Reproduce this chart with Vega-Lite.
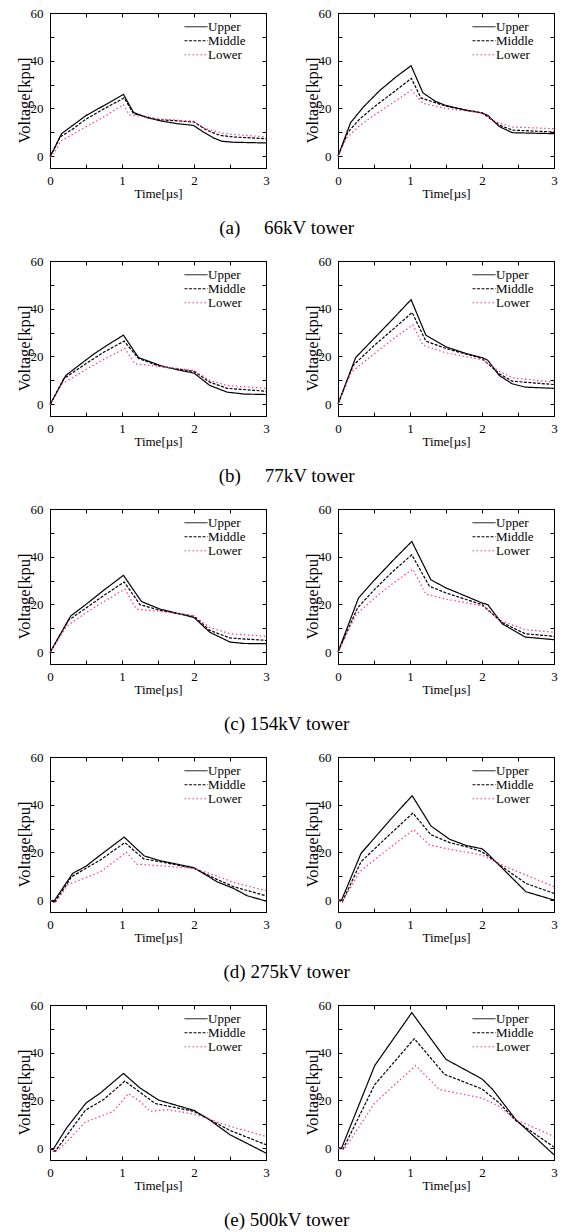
{
"$schema": "https://vega.github.io/schema/vega-lite/v6.json",
"padding": {"left": 15, "top": 6, "right": 0, "bottom": 0},
"config": {
  "view": {"stroke": "black", "strokeWidth": 1},
  "axis": {"grid": false, "tickSize": -4, "domainColor": "black", "tickColor": "black", "labelColor": "black", "titleColor": "black", "labelFont": "Liberation Serif", "labelFontSize": 13, "titleFont": "Liberation Serif", "titleFontWeight": "normal", "labelFlush": false, "labelOverlap": false},
  "axisBottom": {"labelPadding": 10, "titleFontSize": 13, "titlePadding": 0},
  "axisLeft": {"labelPadding": 11, "titleFontSize": 16.5, "titlePadding": -2},
  "legend": {"orient": "none", "legendX": 134, "legendY": 7, "symbolType": "stroke", "symbolSize": 529, "symbolStrokeWidth": 1, "labelFont": "Liberation Serif", "labelFontSize": 13, "labelColor": "black", "labelOffset": 0, "clipHeight": 13.5, "padding": 0, "rowPadding": 0},
  "title": {"font": "Liberation Serif", "fontSize": 19, "fontWeight": "normal", "color": "black", "orient": "bottom", "anchor": "middle", "offset": 18}
},
"datasets": {
"aL": [
{"t":0,"v":0,"s":"Upper"},{"t":0.05,"v":2.5,"s":"Upper"},{"t":0.16,"v":9.4,"s":"Upper"},{"t":0.3,"v":12.5,"s":"Upper"},{"t":0.5,"v":17.0,"s":"Upper"},{"t":0.75,"v":21.2,"s":"Upper"},{"t":1.02,"v":25.9,"s":"Upper"},{"t":1.16,"v":18.3,"s":"Upper"},{"t":1.34,"v":16.2,"s":"Upper"},{"t":1.53,"v":14.8,"s":"Upper"},{"t":1.76,"v":13.6,"s":"Upper"},{"t":1.99,"v":12.9,"s":"Upper"},{"t":2.13,"v":10.1,"s":"Upper"},{"t":2.27,"v":7.6,"s":"Upper"},{"t":2.39,"v":6.2,"s":"Upper"},{"t":2.55,"v":5.8,"s":"Upper"},{"t":3,"v":5.5,"s":"Upper"},
{"t":0,"v":-0.3,"s":"Middle"},{"t":0.14,"v":8.0,"s":"Middle"},{"t":0.3,"v":11.0,"s":"Middle"},{"t":0.5,"v":15.5,"s":"Middle"},{"t":0.75,"v":19.8,"s":"Middle"},{"t":1.03,"v":24.4,"s":"Middle"},{"t":1.16,"v":17.8,"s":"Middle"},{"t":1.5,"v":15.3,"s":"Middle"},{"t":2.0,"v":14.3,"s":"Middle"},{"t":2.18,"v":10.8,"s":"Middle"},{"t":2.36,"v":8.7,"s":"Middle"},{"t":2.55,"v":8.0,"s":"Middle"},{"t":3,"v":7.3,"s":"Middle"},
{"t":0,"v":-0.5,"s":"Lower"},{"t":0.08,"v":2.5,"s":"Lower"},{"t":0.15,"v":6.3,"s":"Lower"},{"t":0.5,"v":12.3,"s":"Lower"},{"t":0.75,"v":16.5,"s":"Lower"},{"t":1.02,"v":21.6,"s":"Lower"},{"t":1.1,"v":17.3,"s":"Lower"},{"t":1.5,"v":15.6,"s":"Lower"},{"t":2.0,"v":14.6,"s":"Lower"},{"t":2.15,"v":11.6,"s":"Lower"},{"t":2.4,"v":9.6,"s":"Lower"},{"t":2.6,"v":8.9,"s":"Lower"},{"t":3,"v":8.1,"s":"Lower"}
],
"aR": [
{"t":0,"v":0,"s":"Upper"},{"t":0.175,"v":14.0,"s":"Upper"},{"t":0.35,"v":20.5,"s":"Upper"},{"t":0.58,"v":27.5,"s":"Upper"},{"t":0.81,"v":33.3,"s":"Upper"},{"t":1.015,"v":37.9,"s":"Upper"},{"t":1.18,"v":26.5,"s":"Upper"},{"t":1.35,"v":23.0,"s":"Upper"},{"t":1.5,"v":21.2,"s":"Upper"},{"t":1.78,"v":19.2,"s":"Upper"},{"t":2.0,"v":18.1,"s":"Upper"},{"t":2.08,"v":17.1,"s":"Upper"},{"t":2.24,"v":12.4,"s":"Upper"},{"t":2.42,"v":9.8,"s":"Upper"},{"t":3,"v":9.4,"s":"Upper"},
{"t":0,"v":0,"s":"Middle"},{"t":0.14,"v":10.1,"s":"Middle"},{"t":0.3,"v":15.5,"s":"Middle"},{"t":0.5,"v":20.6,"s":"Middle"},{"t":0.75,"v":26.3,"s":"Middle"},{"t":1.02,"v":32.6,"s":"Middle"},{"t":1.15,"v":24.4,"s":"Middle"},{"t":1.5,"v":20.9,"s":"Middle"},{"t":2.0,"v":18.1,"s":"Middle"},{"t":2.24,"v":13.0,"s":"Middle"},{"t":2.42,"v":10.9,"s":"Middle"},{"t":3,"v":10.1,"s":"Middle"},
{"t":0,"v":0,"s":"Lower"},{"t":0.115,"v":7.5,"s":"Lower"},{"t":0.3,"v":12.8,"s":"Lower"},{"t":0.5,"v":17.1,"s":"Lower"},{"t":0.75,"v":22.1,"s":"Lower"},{"t":1.02,"v":27.7,"s":"Lower"},{"t":1.18,"v":22.1,"s":"Lower"},{"t":1.5,"v":20.0,"s":"Lower"},{"t":2.0,"v":18.1,"s":"Lower"},{"t":2.19,"v":14.4,"s":"Lower"},{"t":2.42,"v":12.2,"s":"Lower"},{"t":3,"v":11.5,"s":"Lower"}
],
"bL": [
{"t":0,"v":-0.3,"s":"Upper"},{"t":0.22,"v":12.0,"s":"Upper"},{"t":0.4,"v":16.2,"s":"Upper"},{"t":0.6,"v":20.8,"s":"Upper"},{"t":0.8,"v":24.8,"s":"Upper"},{"t":1.02,"v":28.9,"s":"Upper"},{"t":1.23,"v":19.5,"s":"Upper"},{"t":1.53,"v":16.2,"s":"Upper"},{"t":1.75,"v":14.5,"s":"Upper"},{"t":2.0,"v":13.0,"s":"Upper"},{"t":2.22,"v":7.8,"s":"Upper"},{"t":2.46,"v":5.0,"s":"Upper"},{"t":2.7,"v":4.2,"s":"Upper"},{"t":3,"v":4.0,"s":"Upper"},
{"t":0,"v":-0.3,"s":"Middle"},{"t":0.19,"v":10.6,"s":"Middle"},{"t":0.5,"v":17.0,"s":"Middle"},{"t":0.75,"v":21.8,"s":"Middle"},{"t":1.03,"v":26.4,"s":"Middle"},{"t":1.23,"v":19.1,"s":"Middle"},{"t":1.53,"v":15.8,"s":"Middle"},{"t":2.0,"v":13.7,"s":"Middle"},{"t":2.22,"v":9.2,"s":"Middle"},{"t":2.46,"v":6.6,"s":"Middle"},{"t":3,"v":5.4,"s":"Middle"},
{"t":0,"v":-0.5,"s":"Lower"},{"t":0.16,"v":8.3,"s":"Lower"},{"t":0.5,"v":14.5,"s":"Lower"},{"t":0.75,"v":18.8,"s":"Lower"},{"t":1.04,"v":23.3,"s":"Lower"},{"t":1.18,"v":16.9,"s":"Lower"},{"t":1.53,"v":15.8,"s":"Lower"},{"t":2.0,"v":14.1,"s":"Lower"},{"t":2.22,"v":9.9,"s":"Lower"},{"t":2.46,"v":7.8,"s":"Lower"},{"t":3,"v":6.6,"s":"Lower"}
],
"bR": [
{"t":0,"v":0,"s":"Upper"},{"t":0.245,"v":19.5,"s":"Upper"},{"t":0.5,"v":27.5,"s":"Upper"},{"t":0.75,"v":35.3,"s":"Upper"},{"t":1.015,"v":43.8,"s":"Upper"},{"t":1.22,"v":28.9,"s":"Upper"},{"t":1.5,"v":24.0,"s":"Upper"},{"t":1.78,"v":21.2,"s":"Upper"},{"t":2.0,"v":19.5,"s":"Upper"},{"t":2.08,"v":18.4,"s":"Upper"},{"t":2.24,"v":12.0,"s":"Upper"},{"t":2.42,"v":8.5,"s":"Upper"},{"t":2.6,"v":7.1,"s":"Upper"},{"t":3,"v":6.6,"s":"Upper"},
{"t":0,"v":0,"s":"Middle"},{"t":0.21,"v":16.2,"s":"Middle"},{"t":0.5,"v":24.5,"s":"Middle"},{"t":0.75,"v":31.0,"s":"Middle"},{"t":1.03,"v":38.4,"s":"Middle"},{"t":1.22,"v":26.4,"s":"Middle"},{"t":1.5,"v":23.3,"s":"Middle"},{"t":2.0,"v":19.1,"s":"Middle"},{"t":2.24,"v":12.7,"s":"Middle"},{"t":2.42,"v":9.6,"s":"Middle"},{"t":3,"v":8.2,"s":"Middle"},
{"t":0,"v":0,"s":"Lower"},{"t":0.185,"v":13.4,"s":"Lower"},{"t":0.5,"v":21.0,"s":"Lower"},{"t":0.75,"v":27.0,"s":"Lower"},{"t":1.04,"v":33.2,"s":"Lower"},{"t":1.18,"v":24.7,"s":"Lower"},{"t":1.5,"v":21.5,"s":"Lower"},{"t":2.0,"v":18.6,"s":"Lower"},{"t":2.24,"v":13.8,"s":"Lower"},{"t":2.42,"v":11.0,"s":"Lower"},{"t":3,"v":9.2,"s":"Lower"}
],
"cL": [
{"t":0,"v":-0.2,"s":"Upper"},{"t":0.29,"v":15.2,"s":"Upper"},{"t":0.5,"v":20.0,"s":"Upper"},{"t":0.75,"v":26.0,"s":"Upper"},{"t":1.02,"v":32.2,"s":"Upper"},{"t":1.27,"v":21.2,"s":"Upper"},{"t":1.53,"v":18.0,"s":"Upper"},{"t":2.0,"v":14.5,"s":"Upper"},{"t":2.22,"v":8.3,"s":"Upper"},{"t":2.5,"v":4.2,"s":"Upper"},{"t":2.7,"v":3.6,"s":"Upper"},{"t":3,"v":3.5,"s":"Upper"},
{"t":0,"v":-0.2,"s":"Middle"},{"t":0.255,"v":13.3,"s":"Middle"},{"t":0.5,"v":18.5,"s":"Middle"},{"t":0.75,"v":23.8,"s":"Middle"},{"t":1.03,"v":29.4,"s":"Middle"},{"t":1.25,"v":19.9,"s":"Middle"},{"t":1.53,"v":17.5,"s":"Middle"},{"t":2.0,"v":15.0,"s":"Middle"},{"t":2.22,"v":9.1,"s":"Middle"},{"t":2.5,"v":5.9,"s":"Middle"},{"t":3,"v":4.9,"s":"Middle"},
{"t":0,"v":-0.2,"s":"Lower"},{"t":0.23,"v":10.8,"s":"Lower"},{"t":0.5,"v":16.5,"s":"Lower"},{"t":0.75,"v":21.2,"s":"Lower"},{"t":1.04,"v":26.4,"s":"Lower"},{"t":1.2,"v":18.0,"s":"Lower"},{"t":1.53,"v":17.1,"s":"Lower"},{"t":2.0,"v":15.2,"s":"Lower"},{"t":2.22,"v":10.3,"s":"Lower"},{"t":2.5,"v":7.7,"s":"Lower"},{"t":3,"v":6.6,"s":"Lower"}
],
"cR": [
{"t":0,"v":0,"s":"Upper"},{"t":0.285,"v":22.7,"s":"Upper"},{"t":0.5,"v":30.0,"s":"Upper"},{"t":0.75,"v":38.0,"s":"Upper"},{"t":1.025,"v":46.4,"s":"Upper"},{"t":1.29,"v":30.3,"s":"Upper"},{"t":1.5,"v":26.9,"s":"Upper"},{"t":1.78,"v":23.4,"s":"Upper"},{"t":2.0,"v":20.6,"s":"Upper"},{"t":2.08,"v":19.9,"s":"Upper"},{"t":2.28,"v":11.9,"s":"Upper"},{"t":2.6,"v":6.3,"s":"Upper"},{"t":3,"v":5.2,"s":"Upper"},
{"t":0,"v":0,"s":"Middle"},{"t":0.27,"v":18.5,"s":"Middle"},{"t":0.5,"v":26.0,"s":"Middle"},{"t":0.75,"v":33.5,"s":"Middle"},{"t":1.025,"v":40.8,"s":"Middle"},{"t":1.27,"v":27.6,"s":"Middle"},{"t":1.5,"v":24.8,"s":"Middle"},{"t":2.0,"v":19.9,"s":"Middle"},{"t":2.28,"v":12.4,"s":"Middle"},{"t":2.6,"v":7.7,"s":"Middle"},{"t":3,"v":6.6,"s":"Middle"},
{"t":0,"v":0,"s":"Lower"},{"t":0.25,"v":15.7,"s":"Lower"},{"t":0.5,"v":22.5,"s":"Lower"},{"t":0.75,"v":28.5,"s":"Lower"},{"t":1.04,"v":34.8,"s":"Lower"},{"t":1.22,"v":24.3,"s":"Lower"},{"t":1.5,"v":22.2,"s":"Lower"},{"t":2.0,"v":19.4,"s":"Lower"},{"t":2.28,"v":12.9,"s":"Lower"},{"t":2.6,"v":9.4,"s":"Lower"},{"t":3,"v":8.3,"s":"Lower"}
],
"dL": [
{"t":0,"v":0,"s":"Upper"},{"t":0.05,"v":-0.7,"s":"Upper"},{"t":0.315,"v":11.2,"s":"Upper"},{"t":0.5,"v":14.2,"s":"Upper"},{"t":0.7,"v":18.9,"s":"Upper"},{"t":1.03,"v":26.4,"s":"Upper"},{"t":1.16,"v":22.7,"s":"Upper"},{"t":1.31,"v":18.5,"s":"Upper"},{"t":1.53,"v":16.5,"s":"Upper"},{"t":2.0,"v":13.6,"s":"Upper"},{"t":2.32,"v":7.7,"s":"Upper"},{"t":2.55,"v":4.9,"s":"Upper"},{"t":2.74,"v":1.8,"s":"Upper"},{"t":3,"v":-0.4,"s":"Upper"},
{"t":0,"v":0,"s":"Middle"},{"t":0.07,"v":-0.7,"s":"Middle"},{"t":0.3,"v":9.8,"s":"Middle"},{"t":0.7,"v":16.8,"s":"Middle"},{"t":1.04,"v":24.1,"s":"Middle"},{"t":1.3,"v":17.3,"s":"Middle"},{"t":1.53,"v":16.1,"s":"Middle"},{"t":2.0,"v":13.3,"s":"Middle"},{"t":2.32,"v":8.7,"s":"Middle"},{"t":2.55,"v":5.6,"s":"Middle"},{"t":3,"v":1.8,"s":"Middle"},
{"t":0,"v":0,"s":"Lower"},{"t":0.07,"v":-1.4,"s":"Lower"},{"t":0.25,"v":6.5,"s":"Lower"},{"t":0.7,"v":11.8,"s":"Lower"},{"t":1.06,"v":20.1,"s":"Lower"},{"t":1.2,"v":15.1,"s":"Lower"},{"t":1.53,"v":14.4,"s":"Lower"},{"t":2.0,"v":13.3,"s":"Lower"},{"t":2.32,"v":10.1,"s":"Lower"},{"t":2.55,"v":7.4,"s":"Lower"},{"t":3,"v":3.9,"s":"Lower"}
],
"dR": [
{"t":0,"v":0,"s":"Upper"},{"t":0.05,"v":0,"s":"Upper"},{"t":0.32,"v":19.6,"s":"Upper"},{"t":0.5,"v":25.8,"s":"Upper"},{"t":0.72,"v":33.5,"s":"Upper"},{"t":1.03,"v":43.8,"s":"Upper"},{"t":1.29,"v":31.1,"s":"Upper"},{"t":1.55,"v":25.5,"s":"Upper"},{"t":1.78,"v":22.9,"s":"Upper"},{"t":2.0,"v":21.5,"s":"Upper"},{"t":2.05,"v":20.3,"s":"Upper"},{"t":2.33,"v":11.9,"s":"Upper"},{"t":2.61,"v":3.5,"s":"Upper"},{"t":3,"v":0,"s":"Upper"},
{"t":0,"v":0,"s":"Middle"},{"t":0.06,"v":-0.7,"s":"Middle"},{"t":0.32,"v":16.1,"s":"Middle"},{"t":0.7,"v":27.0,"s":"Middle"},{"t":1.04,"v":36.5,"s":"Middle"},{"t":1.29,"v":27.4,"s":"Middle"},{"t":1.55,"v":24.1,"s":"Middle"},{"t":1.78,"v":22.4,"s":"Middle"},{"t":2.0,"v":20.3,"s":"Middle"},{"t":2.33,"v":12.9,"s":"Middle"},{"t":2.61,"v":7.0,"s":"Middle"},{"t":3,"v":2.8,"s":"Middle"},
{"t":0,"v":0,"s":"Lower"},{"t":0.07,"v":-0.4,"s":"Lower"},{"t":0.3,"v":11.9,"s":"Lower"},{"t":0.7,"v":21.5,"s":"Lower"},{"t":1.05,"v":29.5,"s":"Lower"},{"t":1.27,"v":23.1,"s":"Lower"},{"t":1.55,"v":21.3,"s":"Lower"},{"t":2.0,"v":18.9,"s":"Lower"},{"t":2.33,"v":14.0,"s":"Lower"},{"t":2.61,"v":10.5,"s":"Lower"},{"t":3,"v":5.6,"s":"Lower"}
],
"eL": [
{"t":0,"v":0,"s":"Upper"},{"t":0.04,"v":-0.7,"s":"Upper"},{"t":0.23,"v":8.4,"s":"Upper"},{"t":0.5,"v":18.9,"s":"Upper"},{"t":0.7,"v":23.1,"s":"Upper"},{"t":1.02,"v":31.3,"s":"Upper"},{"t":1.25,"v":25.2,"s":"Upper"},{"t":1.51,"v":20.1,"s":"Upper"},{"t":2.0,"v":15.8,"s":"Upper"},{"t":2.18,"v":12.6,"s":"Upper"},{"t":2.5,"v":5.6,"s":"Upper"},{"t":3,"v":-2.1,"s":"Upper"},
{"t":0,"v":0,"s":"Middle"},{"t":0.07,"v":-1.4,"s":"Middle"},{"t":0.49,"v":15.8,"s":"Middle"},{"t":0.75,"v":20.5,"s":"Middle"},{"t":1.04,"v":28.1,"s":"Middle"},{"t":1.46,"v":18.7,"s":"Middle"},{"t":2.0,"v":15.4,"s":"Middle"},{"t":2.5,"v":7.4,"s":"Middle"},{"t":3,"v":1.4,"s":"Middle"},
{"t":0,"v":0,"s":"Lower"},{"t":0.06,"v":-1.8,"s":"Lower"},{"t":0.2,"v":1.5,"s":"Lower"},{"t":0.49,"v":10.9,"s":"Lower"},{"t":0.88,"v":15.4,"s":"Lower"},{"t":1.09,"v":22.9,"s":"Lower"},{"t":1.25,"v":19.6,"s":"Lower"},{"t":1.39,"v":15.4,"s":"Lower"},{"t":1.62,"v":16.1,"s":"Lower"},{"t":2.0,"v":14.3,"s":"Lower"},{"t":2.5,"v":9.1,"s":"Lower"},{"t":3,"v":4.9,"s":"Lower"}
],
"eR": [
{"t":0,"v":0,"s":"Upper"},{"t":0.05,"v":0,"s":"Upper"},{"t":0.51,"v":34.6,"s":"Upper"},{"t":1.025,"v":56.8,"s":"Upper"},{"t":1.5,"v":37.2,"s":"Upper"},{"t":2.0,"v":29.0,"s":"Upper"},{"t":2.15,"v":24.5,"s":"Upper"},{"t":2.47,"v":11.9,"s":"Upper"},{"t":3,"v":-2.8,"s":"Upper"},
{"t":0,"v":0,"s":"Middle"},{"t":0.07,"v":-0.4,"s":"Middle"},{"t":0.51,"v":26.6,"s":"Middle"},{"t":1.06,"v":45.9,"s":"Middle"},{"t":1.48,"v":30.9,"s":"Middle"},{"t":2.0,"v":24.8,"s":"Middle"},{"t":2.24,"v":18.9,"s":"Middle"},{"t":2.47,"v":11.5,"s":"Middle"},{"t":3,"v":0.4,"s":"Middle"},
{"t":0,"v":0,"s":"Lower"},{"t":0.09,"v":-0.4,"s":"Lower"},{"t":0.51,"v":18.9,"s":"Lower"},{"t":1.08,"v":34.6,"s":"Lower"},{"t":1.41,"v":24.5,"s":"Lower"},{"t":2.0,"v":21.0,"s":"Lower"},{"t":2.24,"v":17.5,"s":"Lower"},{"t":2.47,"v":11.9,"s":"Lower"},{"t":3,"v":4.9,"s":"Lower"}
]
},
"spacing": 16,
"resolve": {"scale": {"color": "independent", "strokeDash": "independent"}},
"vconcat": [
{"title": {"text": "(a)\u00a0\u00a0\u00a0\u00a0\u00a066kV tower"}, "spacing": 33, "resolve": {"scale": {"color": "independent", "strokeDash": "independent"}},
 "hconcat": [
  {"width": 216, "height": 155, "data": {"name": "aL"}, "resolve": {"axis": {"x": "independent", "y": "independent"}}, "layer": [
   {"mark": {"type": "line", "strokeWidth": 1.2}, "encoding": {"x": {"field": "t", "type": "quantitative", "scale": {"domain": [0, 3], "nice": false}, "axis": {"values": [0, 0.5, 1, 1.5, 2, 2.5, 3], "labelExpr": "datum.value % 1 == 0 ? format(datum.value, 'd') : ''", "title": "Time[µs]"}}, "y": {"field": "v", "type": "quantitative", "scale": {"domain": [-5, 60], "nice": false, "zero": false}, "axis": {"values": [0, 10, 20, 30, 40, 50, 60], "labelExpr": "datum.value % 20 == 0 ? format(datum.value, 'd') : ''", "title": "Voltage[kpu]", "titleY": 87}}, "color": {"field": "s", "type": "nominal", "scale": {"domain": ["Upper", "Middle", "Lower"], "range": ["#000000", "#000000", "#ff3399"]}, "legend": {"title": null}}, "strokeDash": {"field": "s", "type": "nominal", "scale": {"domain": ["Upper", "Middle", "Lower"], "range": [[1, 0], [3, 1.5], [1.5, 2.5]]}, "legend": {"title": null}}}},
   {"mark": {"type": "point", "opacity": 0}, "encoding": {"x": {"field": "t", "type": "quantitative", "axis": {"orient": "top", "values": [0, 0.5, 1, 1.5, 2, 2.5, 3], "labels": false, "title": null}}, "y": {"field": "v", "type": "quantitative", "axis": {"orient": "right", "values": [0, 10, 20, 30, 40, 50, 60], "labels": false, "title": null}}}}
  ]},
  {"width": 216, "height": 155, "data": {"name": "aR"}, "resolve": {"axis": {"x": "independent", "y": "independent"}}, "layer": [
   {"mark": {"type": "line", "strokeWidth": 1.2}, "encoding": {"x": {"field": "t", "type": "quantitative", "scale": {"domain": [0, 3], "nice": false}, "axis": {"values": [0, 0.5, 1, 1.5, 2, 2.5, 3], "labelExpr": "datum.value % 1 == 0 ? format(datum.value, 'd') : ''", "title": "Time[µs]"}}, "y": {"field": "v", "type": "quantitative", "scale": {"domain": [-5, 60], "nice": false, "zero": false}, "axis": {"values": [0, 10, 20, 30, 40, 50, 60], "labelExpr": "datum.value % 20 == 0 ? format(datum.value, 'd') : ''", "title": "Voltage[kpu]", "titleY": 87}}, "color": {"field": "s", "type": "nominal", "scale": {"domain": ["Upper", "Middle", "Lower"], "range": ["#000000", "#000000", "#ff3399"]}, "legend": {"title": null}}, "strokeDash": {"field": "s", "type": "nominal", "scale": {"domain": ["Upper", "Middle", "Lower"], "range": [[1, 0], [3, 1.5], [1.5, 2.5]]}, "legend": {"title": null}}}},
   {"mark": {"type": "point", "opacity": 0}, "encoding": {"x": {"field": "t", "type": "quantitative", "axis": {"orient": "top", "values": [0, 0.5, 1, 1.5, 2, 2.5, 3], "labels": false, "title": null}}, "y": {"field": "v", "type": "quantitative", "axis": {"orient": "right", "values": [0, 10, 20, 30, 40, 50, 60], "labels": false, "title": null}}}}
  ]}
 ]},
{"title": {"text": "(b)\u00a0\u00a0\u00a0\u00a0\u00a077kV tower"}, "spacing": 33, "resolve": {"scale": {"color": "independent", "strokeDash": "independent"}},
 "hconcat": [
  {"width": 216, "height": 155, "data": {"name": "bL"}, "resolve": {"axis": {"x": "independent", "y": "independent"}}, "layer": [
   {"mark": {"type": "line", "strokeWidth": 1.2}, "encoding": {"x": {"field": "t", "type": "quantitative", "scale": {"domain": [0, 3], "nice": false}, "axis": {"values": [0, 0.5, 1, 1.5, 2, 2.5, 3], "labelExpr": "datum.value % 1 == 0 ? format(datum.value, 'd') : ''", "title": "Time[µs]"}}, "y": {"field": "v", "type": "quantitative", "scale": {"domain": [-5, 60], "nice": false, "zero": false}, "axis": {"values": [0, 10, 20, 30, 40, 50, 60], "labelExpr": "datum.value % 20 == 0 ? format(datum.value, 'd') : ''", "title": "Voltage[kpu]", "titleY": 87}}, "color": {"field": "s", "type": "nominal", "scale": {"domain": ["Upper", "Middle", "Lower"], "range": ["#000000", "#000000", "#ff3399"]}, "legend": {"title": null}}, "strokeDash": {"field": "s", "type": "nominal", "scale": {"domain": ["Upper", "Middle", "Lower"], "range": [[1, 0], [3, 1.5], [1.5, 2.5]]}, "legend": {"title": null}}}},
   {"mark": {"type": "point", "opacity": 0}, "encoding": {"x": {"field": "t", "type": "quantitative", "axis": {"orient": "top", "values": [0, 0.5, 1, 1.5, 2, 2.5, 3], "labels": false, "title": null}}, "y": {"field": "v", "type": "quantitative", "axis": {"orient": "right", "values": [0, 10, 20, 30, 40, 50, 60], "labels": false, "title": null}}}}
  ]},
  {"width": 216, "height": 155, "data": {"name": "bR"}, "resolve": {"axis": {"x": "independent", "y": "independent"}}, "layer": [
   {"mark": {"type": "line", "strokeWidth": 1.2}, "encoding": {"x": {"field": "t", "type": "quantitative", "scale": {"domain": [0, 3], "nice": false}, "axis": {"values": [0, 0.5, 1, 1.5, 2, 2.5, 3], "labelExpr": "datum.value % 1 == 0 ? format(datum.value, 'd') : ''", "title": "Time[µs]"}}, "y": {"field": "v", "type": "quantitative", "scale": {"domain": [-5, 60], "nice": false, "zero": false}, "axis": {"values": [0, 10, 20, 30, 40, 50, 60], "labelExpr": "datum.value % 20 == 0 ? format(datum.value, 'd') : ''", "title": "Voltage[kpu]", "titleY": 87}}, "color": {"field": "s", "type": "nominal", "scale": {"domain": ["Upper", "Middle", "Lower"], "range": ["#000000", "#000000", "#ff3399"]}, "legend": {"title": null}}, "strokeDash": {"field": "s", "type": "nominal", "scale": {"domain": ["Upper", "Middle", "Lower"], "range": [[1, 0], [3, 1.5], [1.5, 2.5]]}, "legend": {"title": null}}}},
   {"mark": {"type": "point", "opacity": 0}, "encoding": {"x": {"field": "t", "type": "quantitative", "axis": {"orient": "top", "values": [0, 0.5, 1, 1.5, 2, 2.5, 3], "labels": false, "title": null}}, "y": {"field": "v", "type": "quantitative", "axis": {"orient": "right", "values": [0, 10, 20, 30, 40, 50, 60], "labels": false, "title": null}}}}
  ]}
 ]},
{"title": {"text": "(c) 154kV tower"}, "spacing": 33, "resolve": {"scale": {"color": "independent", "strokeDash": "independent"}},
 "hconcat": [
  {"width": 216, "height": 155, "data": {"name": "cL"}, "resolve": {"axis": {"x": "independent", "y": "independent"}}, "layer": [
   {"mark": {"type": "line", "strokeWidth": 1.2}, "encoding": {"x": {"field": "t", "type": "quantitative", "scale": {"domain": [0, 3], "nice": false}, "axis": {"values": [0, 0.5, 1, 1.5, 2, 2.5, 3], "labelExpr": "datum.value % 1 == 0 ? format(datum.value, 'd') : ''", "title": "Time[µs]"}}, "y": {"field": "v", "type": "quantitative", "scale": {"domain": [-5, 60], "nice": false, "zero": false}, "axis": {"values": [0, 10, 20, 30, 40, 50, 60], "labelExpr": "datum.value % 20 == 0 ? format(datum.value, 'd') : ''", "title": "Voltage[kpu]", "titleY": 87}}, "color": {"field": "s", "type": "nominal", "scale": {"domain": ["Upper", "Middle", "Lower"], "range": ["#000000", "#000000", "#ff3399"]}, "legend": {"title": null}}, "strokeDash": {"field": "s", "type": "nominal", "scale": {"domain": ["Upper", "Middle", "Lower"], "range": [[1, 0], [3, 1.5], [1.5, 2.5]]}, "legend": {"title": null}}}},
   {"mark": {"type": "point", "opacity": 0}, "encoding": {"x": {"field": "t", "type": "quantitative", "axis": {"orient": "top", "values": [0, 0.5, 1, 1.5, 2, 2.5, 3], "labels": false, "title": null}}, "y": {"field": "v", "type": "quantitative", "axis": {"orient": "right", "values": [0, 10, 20, 30, 40, 50, 60], "labels": false, "title": null}}}}
  ]},
  {"width": 216, "height": 155, "data": {"name": "cR"}, "resolve": {"axis": {"x": "independent", "y": "independent"}}, "layer": [
   {"mark": {"type": "line", "strokeWidth": 1.2}, "encoding": {"x": {"field": "t", "type": "quantitative", "scale": {"domain": [0, 3], "nice": false}, "axis": {"values": [0, 0.5, 1, 1.5, 2, 2.5, 3], "labelExpr": "datum.value % 1 == 0 ? format(datum.value, 'd') : ''", "title": "Time[µs]"}}, "y": {"field": "v", "type": "quantitative", "scale": {"domain": [-5, 60], "nice": false, "zero": false}, "axis": {"values": [0, 10, 20, 30, 40, 50, 60], "labelExpr": "datum.value % 20 == 0 ? format(datum.value, 'd') : ''", "title": "Voltage[kpu]", "titleY": 87}}, "color": {"field": "s", "type": "nominal", "scale": {"domain": ["Upper", "Middle", "Lower"], "range": ["#000000", "#000000", "#ff3399"]}, "legend": {"title": null}}, "strokeDash": {"field": "s", "type": "nominal", "scale": {"domain": ["Upper", "Middle", "Lower"], "range": [[1, 0], [3, 1.5], [1.5, 2.5]]}, "legend": {"title": null}}}},
   {"mark": {"type": "point", "opacity": 0}, "encoding": {"x": {"field": "t", "type": "quantitative", "axis": {"orient": "top", "values": [0, 0.5, 1, 1.5, 2, 2.5, 3], "labels": false, "title": null}}, "y": {"field": "v", "type": "quantitative", "axis": {"orient": "right", "values": [0, 10, 20, 30, 40, 50, 60], "labels": false, "title": null}}}}
  ]}
 ]},
{"title": {"text": "(d) 275kV tower"}, "spacing": 33, "resolve": {"scale": {"color": "independent", "strokeDash": "independent"}},
 "hconcat": [
  {"width": 216, "height": 155, "data": {"name": "dL"}, "resolve": {"axis": {"x": "independent", "y": "independent"}}, "layer": [
   {"mark": {"type": "line", "strokeWidth": 1.2}, "encoding": {"x": {"field": "t", "type": "quantitative", "scale": {"domain": [0, 3], "nice": false}, "axis": {"values": [0, 0.5, 1, 1.5, 2, 2.5, 3], "labelExpr": "datum.value % 1 == 0 ? format(datum.value, 'd') : ''", "title": "Time[µs]"}}, "y": {"field": "v", "type": "quantitative", "scale": {"domain": [-5, 60], "nice": false, "zero": false}, "axis": {"values": [0, 10, 20, 30, 40, 50, 60], "labelExpr": "datum.value % 20 == 0 ? format(datum.value, 'd') : ''", "title": "Voltage[kpu]", "titleY": 87}}, "color": {"field": "s", "type": "nominal", "scale": {"domain": ["Upper", "Middle", "Lower"], "range": ["#000000", "#000000", "#ff3399"]}, "legend": {"title": null}}, "strokeDash": {"field": "s", "type": "nominal", "scale": {"domain": ["Upper", "Middle", "Lower"], "range": [[1, 0], [3, 1.5], [1.5, 2.5]]}, "legend": {"title": null}}}},
   {"mark": {"type": "point", "opacity": 0}, "encoding": {"x": {"field": "t", "type": "quantitative", "axis": {"orient": "top", "values": [0, 0.5, 1, 1.5, 2, 2.5, 3], "labels": false, "title": null}}, "y": {"field": "v", "type": "quantitative", "axis": {"orient": "right", "values": [0, 10, 20, 30, 40, 50, 60], "labels": false, "title": null}}}}
  ]},
  {"width": 216, "height": 155, "data": {"name": "dR"}, "resolve": {"axis": {"x": "independent", "y": "independent"}}, "layer": [
   {"mark": {"type": "line", "strokeWidth": 1.2}, "encoding": {"x": {"field": "t", "type": "quantitative", "scale": {"domain": [0, 3], "nice": false}, "axis": {"values": [0, 0.5, 1, 1.5, 2, 2.5, 3], "labelExpr": "datum.value % 1 == 0 ? format(datum.value, 'd') : ''", "title": "Time[µs]"}}, "y": {"field": "v", "type": "quantitative", "scale": {"domain": [-5, 60], "nice": false, "zero": false}, "axis": {"values": [0, 10, 20, 30, 40, 50, 60], "labelExpr": "datum.value % 20 == 0 ? format(datum.value, 'd') : ''", "title": "Voltage[kpu]", "titleY": 87}}, "color": {"field": "s", "type": "nominal", "scale": {"domain": ["Upper", "Middle", "Lower"], "range": ["#000000", "#000000", "#ff3399"]}, "legend": {"title": null}}, "strokeDash": {"field": "s", "type": "nominal", "scale": {"domain": ["Upper", "Middle", "Lower"], "range": [[1, 0], [3, 1.5], [1.5, 2.5]]}, "legend": {"title": null}}}},
   {"mark": {"type": "point", "opacity": 0}, "encoding": {"x": {"field": "t", "type": "quantitative", "axis": {"orient": "top", "values": [0, 0.5, 1, 1.5, 2, 2.5, 3], "labels": false, "title": null}}, "y": {"field": "v", "type": "quantitative", "axis": {"orient": "right", "values": [0, 10, 20, 30, 40, 50, 60], "labels": false, "title": null}}}}
  ]}
 ]},
{"title": {"text": "(e) 500kV tower"}, "spacing": 33, "resolve": {"scale": {"color": "independent", "strokeDash": "independent"}},
 "hconcat": [
  {"width": 216, "height": 155, "data": {"name": "eL"}, "resolve": {"axis": {"x": "independent", "y": "independent"}}, "layer": [
   {"mark": {"type": "line", "strokeWidth": 1.2}, "encoding": {"x": {"field": "t", "type": "quantitative", "scale": {"domain": [0, 3], "nice": false}, "axis": {"values": [0, 0.5, 1, 1.5, 2, 2.5, 3], "labelExpr": "datum.value % 1 == 0 ? format(datum.value, 'd') : ''", "title": "Time[µs]"}}, "y": {"field": "v", "type": "quantitative", "scale": {"domain": [-5, 60], "nice": false, "zero": false}, "axis": {"values": [0, 10, 20, 30, 40, 50, 60], "labelExpr": "datum.value % 20 == 0 ? format(datum.value, 'd') : ''", "title": "Voltage[kpu]", "titleY": 87}}, "color": {"field": "s", "type": "nominal", "scale": {"domain": ["Upper", "Middle", "Lower"], "range": ["#000000", "#000000", "#ff3399"]}, "legend": {"title": null}}, "strokeDash": {"field": "s", "type": "nominal", "scale": {"domain": ["Upper", "Middle", "Lower"], "range": [[1, 0], [3, 1.5], [1.5, 2.5]]}, "legend": {"title": null}}}},
   {"mark": {"type": "point", "opacity": 0}, "encoding": {"x": {"field": "t", "type": "quantitative", "axis": {"orient": "top", "values": [0, 0.5, 1, 1.5, 2, 2.5, 3], "labels": false, "title": null}}, "y": {"field": "v", "type": "quantitative", "axis": {"orient": "right", "values": [0, 10, 20, 30, 40, 50, 60], "labels": false, "title": null}}}}
  ]},
  {"width": 216, "height": 155, "data": {"name": "eR"}, "resolve": {"axis": {"x": "independent", "y": "independent"}}, "layer": [
   {"mark": {"type": "line", "strokeWidth": 1.2}, "encoding": {"x": {"field": "t", "type": "quantitative", "scale": {"domain": [0, 3], "nice": false}, "axis": {"values": [0, 0.5, 1, 1.5, 2, 2.5, 3], "labelExpr": "datum.value % 1 == 0 ? format(datum.value, 'd') : ''", "title": "Time[µs]"}}, "y": {"field": "v", "type": "quantitative", "scale": {"domain": [-5, 60], "nice": false, "zero": false}, "axis": {"values": [0, 10, 20, 30, 40, 50, 60], "labelExpr": "datum.value % 20 == 0 ? format(datum.value, 'd') : ''", "title": "Voltage[kpu]", "titleY": 87}}, "color": {"field": "s", "type": "nominal", "scale": {"domain": ["Upper", "Middle", "Lower"], "range": ["#000000", "#000000", "#ff3399"]}, "legend": {"title": null}}, "strokeDash": {"field": "s", "type": "nominal", "scale": {"domain": ["Upper", "Middle", "Lower"], "range": [[1, 0], [3, 1.5], [1.5, 2.5]]}, "legend": {"title": null}}}},
   {"mark": {"type": "point", "opacity": 0}, "encoding": {"x": {"field": "t", "type": "quantitative", "axis": {"orient": "top", "values": [0, 0.5, 1, 1.5, 2, 2.5, 3], "labels": false, "title": null}}, "y": {"field": "v", "type": "quantitative", "axis": {"orient": "right", "values": [0, 10, 20, 30, 40, 50, 60], "labels": false, "title": null}}}}
  ]}
 ]}
]
}
